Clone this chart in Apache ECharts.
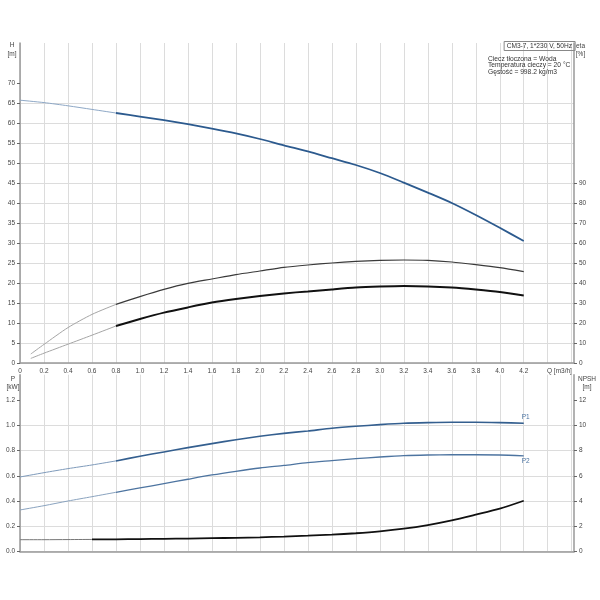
<!DOCTYPE html>
<html><head><meta charset="utf-8">
<script src="https://cdn.jsdelivr.net/npm/echarts@6/dist/echarts.min.js"></script>
<style>html,body{margin:0;padding:0;background:#fff}#c{width:600px;height:600px}</style>
</head><body><div id="c"></div>
<script>
// ---- data ----
const qMain = [0,0.2,0.4,0.6,0.8,1.0,1.2,1.4,1.6,1.8,2.0,2.2,2.4,2.6,2.8,3.0,3.2,3.4,3.6,3.8,4.0,4.2];
const headH = [65.7,65.1,64.3,63.4,62.5,61.6,60.7,59.7,58.6,57.4,56.0,54.4,52.9,51.2,49.5,47.5,45.1,42.6,40.0,37.0,33.8,30.5];
const qEta = [0.09,0.2,0.4,0.6,0.8,1.0,1.2,1.4,1.6,1.8,2.0,2.2,2.4,2.6,2.8,3.0,3.2,3.4,3.6,3.8,4.0,4.2];
const etaUpper = [4.5,9.3,17.7,24.3,29.3,33.2,36.8,39.8,42.0,44.2,46.0,47.8,49.0,50.0,50.8,51.3,51.5,51.3,50.5,49.2,47.7,45.7];
const etaLower = [2.3,4.9,9.4,13.9,18.5,22.0,25.2,27.8,30.2,32.0,33.5,34.8,35.8,36.8,37.7,38.2,38.5,38.3,37.7,36.7,35.5,33.8];
const powerP1 = [0.591,0.625,0.657,0.686,0.718,0.755,0.789,0.823,0.855,0.886,0.913,0.936,0.955,0.976,0.992,1.005,1.016,1.021,1.024,1.024,1.021,1.016];
const powerP2 = [0.330,0.364,0.401,0.435,0.470,0.504,0.538,0.573,0.607,0.636,0.662,0.682,0.704,0.720,0.736,0.749,0.760,0.765,0.767,0.767,0.765,0.758];
const npsh = [0.95,0.95,0.96,0.97,0.98,1.0,1.02,1.04,1.07,1.10,1.14,1.20,1.27,1.35,1.46,1.61,1.82,2.11,2.48,2.93,3.40,4.03];
const hTicks = [0,5,10,15,20,25,30,35,40,45,50,55,60,65,70];
const etaTicks = [0,10,20,30,40,50,60,70,80,90];
const pTicks = [0,0.2,0.4,0.6,0.8,1.0,1.2];
const npshTicks = [0,2,4,6,8,10,12];
const infoBox = 'CM3-7, 1*230 V, 50Hz';
const infoLines = ['Ciecz tłoczona = Woda','Temperatura cieczy = 20 °C','Gęstość = 998.2 kg/m3'];

// ---- helpers ----
const FONT = 'Liberation Sans, Arial, sans-serif';
function pairs(xs, ys){ return xs.map((x,i)=>[x, ys[i]]); }
function thinPart(xs, ys, split){ return pairs(xs,ys).filter(p=>p[0] <= split + 1e-9); }
function thickPart(xs, ys, split){ return pairs(xs,ys).filter(p=>p[0] >= split - 1e-9); }
function line(name, data, xi, yi, color, width, extra){
  return Object.assign({name, type:'line', data, xAxisIndex:xi, yAxisIndex:yi, showSymbol:false,
    smooth:0.25, lineStyle:{color, width}, itemStyle:{color}, silent:true, z:3}, extra||{});
}
const labStyle = {fontSize:6.5, color:'#444', fontFamily:FONT};
const gridLine = {show:true, showMaxLine:false, lineStyle:{color:'#dcdcdc', width:1}};
const axLine = {show:true, onZero:false, lineStyle:{color:'#999', width:1.5}};
function ticks(vals){ return {show:true, length:3, customValues:vals, lineStyle:{color:'#666'}}; }
const QMAX = 4.619;

const chart = echarts.init(document.getElementById('c'), null, {renderer:'canvas'});
chart.setOption({
  animation:false,
  backgroundColor:'#fff',
  textStyle:{fontFamily:FONT},
  title:[
    {text:infoBox, right:25, top:41.5, borderColor:'#888', borderWidth:1, padding:[1.5,3,1,3],
     textStyle:{fontSize:6.6, fontWeight:'normal', color:'#333', fontFamily:FONT}},
    {text:infoLines.join('\n'), left:488, top:56, padding:0,
     textStyle:{fontSize:6.7, lineHeight:6.4, fontWeight:'normal', color:'#333', fontFamily:FONT}}
  ],
  grid:[
    {left:20, right:26, top:43, height:320},
    {left:20, right:26, top:374.7, height:177}
  ],
  xAxis:[
    {type:'value', gridIndex:0, min:0, max:QMAX, interval:0.2,
     axisLine:axLine, axisTick:{show:false}, splitLine:gridLine,
     axisLabel:Object.assign({margin:5, showMaxLabel:false, formatter:v=> v===0 ? '0' : (v<=4.21 ? v.toFixed(1) : '')}, labStyle),
     name:'Q [m3/h]', nameLocation:'end', nameGap:-27,
     nameTextStyle:{fontSize:6.5, color:'#444', align:'left', verticalAlign:'top', padding:[5,0,0,0]}},
    {type:'value', gridIndex:1, min:0, max:QMAX, interval:0.2,
     axisLine:axLine, axisTick:{show:false}, splitLine:gridLine, axisLabel:{show:false}}
  ],
  yAxis:[
    {type:'value', gridIndex:0, position:'left', min:0, max:80, interval:5,
     axisLine:axLine, axisTick:ticks(hTicks), splitLine:gridLine,
     axisLabel:Object.assign({margin:5, formatter:v=> v<=70 ? String(v) : ''}, labStyle),
     name:'H\n[m]', nameLocation:'end', nameGap:-16,
     nameTextStyle:{fontSize:6.5, lineHeight:9, color:'#444', align:'center', verticalAlign:'bottom', padding:[0,16,0,0]}},
    {type:'value', gridIndex:0, position:'right', min:0, max:160, interval:10,
     axisLine:axLine, axisTick:ticks(etaTicks), splitLine:{show:false},
     axisLabel:Object.assign({margin:5, formatter:v=> v<=90 ? String(v) : ''}, labStyle),
     name:'eta\n[%]', nameLocation:'end', nameGap:-15.5,
     nameTextStyle:{fontSize:6.5, lineHeight:8.5, color:'#444', align:'center', verticalAlign:'bottom', padding:[0,0,0,13]}},
    {type:'value', gridIndex:1, position:'left', min:0, max:1.4, interval:0.2,
     axisLine:axLine, axisTick:ticks(pTicks), splitLine:gridLine,
     axisLabel:Object.assign({margin:5, formatter:v=> v<=1.21 ? v.toFixed(1) : ''}, labStyle),
     name:'P\n[kW]', nameLocation:'end', nameGap:-17,
     nameTextStyle:{fontSize:6.5, lineHeight:8.5, color:'#444', align:'center', verticalAlign:'bottom', padding:[0,14,0,0]}},
    {type:'value', gridIndex:1, position:'right', min:0, max:14, interval:2,
     axisLine:axLine, axisTick:ticks(npshTicks), splitLine:{show:false},
     axisLabel:Object.assign({margin:5, formatter:v=> v<=12 ? String(v) : ''}, labStyle),
     name:'NPSH\n[m]', nameLocation:'end', nameGap:-17,
     nameTextStyle:{fontSize:6.5, lineHeight:8.5, color:'#444', align:'center', verticalAlign:'bottom', padding:[0,0,0,26]}}
  ],
  series:[
    line('H thin', thinPart(qMain, headH, 0.8), 0, 0, '#8ea8c6', 1),
    line('H', thickPart(qMain, headH, 0.8), 0, 0, '#2c5a8e', 1.8),
    line('eta1 thin', thinPart(qEta, etaUpper, 0.8), 0, 1, '#a5a5a5', 1),
    line('eta1', thickPart(qEta, etaUpper, 0.8), 0, 1, '#3a3a3a', 1.2),
    line('eta2 thin', thinPart(qEta, etaLower, 0.8), 0, 1, '#a5a5a5', 1),
    line('eta2', thickPart(qEta, etaLower, 0.8), 0, 1, '#111', 2),
    line('P1 thin', thinPart(qMain, powerP1, 0.8), 1, 2, '#7f9bbb', 1),
    line('P1', thickPart(qMain, powerP1, 0.8), 1, 2, '#345f8f', 1.6,
      {endLabel:{show:true, formatter:'P1', fontSize:6.5, color:'#4a72a0', offset:[-10,-6], fontFamily:FONT}}),
    line('P2 thin', thinPart(qMain, powerP2, 0.8), 1, 2, '#8aa3bf', 1),
    line('P2', thickPart(qMain, powerP2, 0.8), 1, 2, '#4d74a0', 1.3,
      {endLabel:{show:true, formatter:'P2', fontSize:6.5, color:'#4a72a0', offset:[-10,5], fontFamily:FONT}}),
    line('NPSH thin', thinPart(qMain, npsh, 0.6), 1, 3, '#777', 1),
    line('NPSH', thickPart(qMain, npsh, 0.6), 1, 3, '#111', 1.8)
  ]
});
</script>
</body></html>
